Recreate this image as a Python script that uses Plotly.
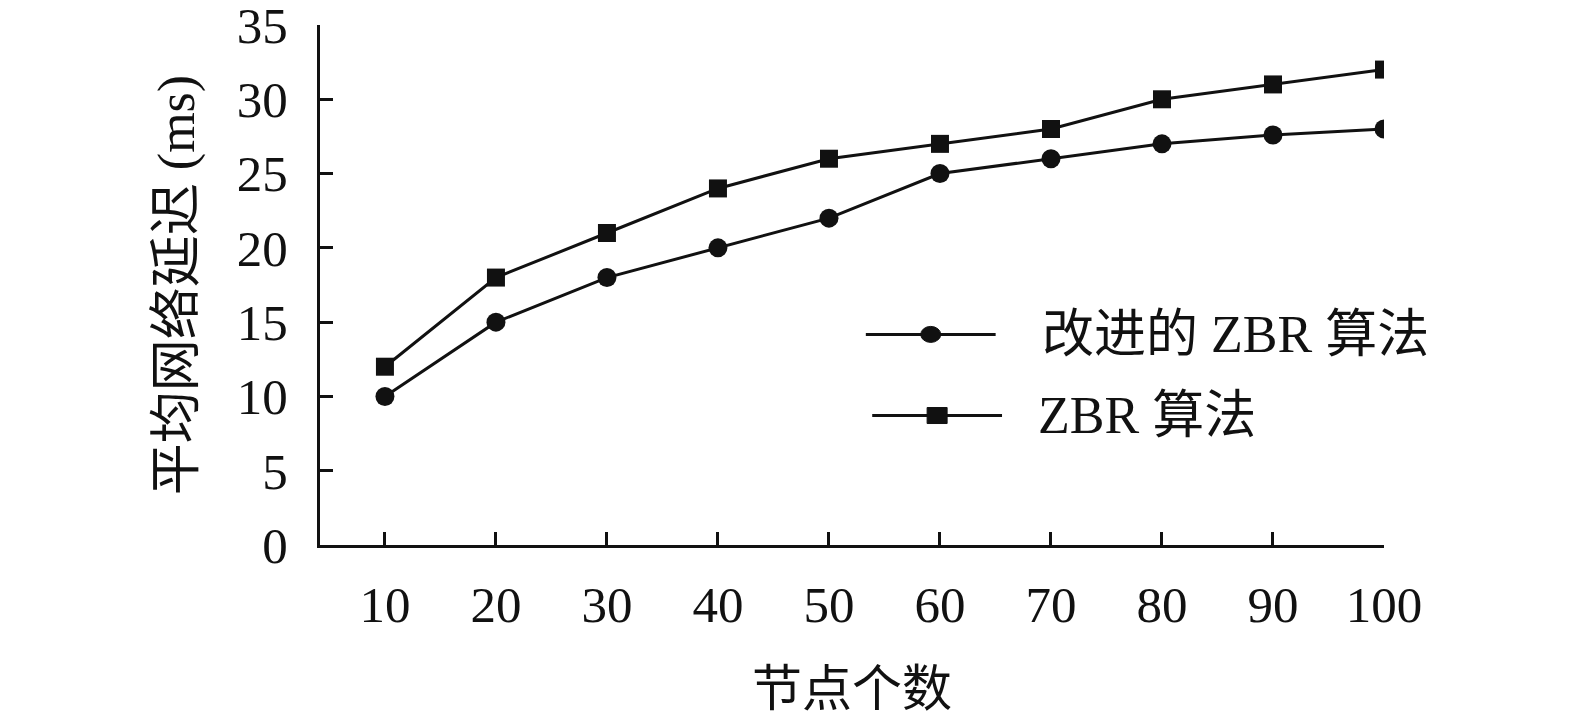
# Average network delay vs number of nodes: improved ZBR vs ZBR
import plotly.graph_objects as go

# ── data ─────────────────────────────────────────────────────
node_counts = [10, 20, 30, 40, 50, 60, 70, 80, 90, 100]
improved_zbr = [10.0, 15.0, 18.0, 20.0, 22.0, 25.0, 26.0, 27.0, 27.6, 28.0]
zbr = [12.0, 18.0, 21.0, 24.0, 26.0, 27.0, 28.0, 30.0, 31.0, 32.0]
y_ticks = [0, 5, 10, 15, 20, 25, 30, 35]
series_names = ["改进的 ZBR 算法", "ZBR 算法"]

FONT = "Liberation Serif, Noto Sans CJK SC, serif"
INK = "#111111"

fig = go.Figure()

fig.add_trace(go.Scatter(
    x=node_counts, y=improved_zbr, name=series_names[0],
    mode="lines+markers",
    line=dict(color=INK, width=3),
    marker=dict(symbol="circle", size=19, color=INK),
    showlegend=False,
))
fig.add_trace(go.Scatter(
    x=node_counts, y=zbr, name=series_names[1],
    mode="lines+markers",
    line=dict(color=INK, width=3),
    marker=dict(symbol="square", size=18, color=INK),
    showlegend=False,
))

# ── hand-drawn legend (long key lines like the original) ─────
legend_rows = [
    dict(y=0.405, x0=0.513, x1=0.635, xm=0.574, sym="circle", tx=0.677),
    dict(y=0.249, x0=0.519, x1=0.641, xm=0.580, sym="rect", tx=0.673),
]
for row, name in zip(legend_rows, series_names):
    fig.add_shape(type="line", xref="paper", yref="paper",
                  x0=row["x0"], x1=row["x1"], y0=row["y"], y1=row["y"],
                  line=dict(color=INK, width=3))
    fig.add_shape(type=row["sym"], xref="paper", yref="paper",
                  xsizemode="pixel", ysizemode="pixel",
                  xanchor=row["xm"], yanchor=row["y"],
                  x0=-10, x1=10, y0=-8, y1=8,
                  fillcolor=INK, line=dict(color=INK, width=1))
    fig.add_annotation(text=name, xref="paper", yref="paper",
                       x=row["tx"], y=row["y"], xanchor="left", yanchor="middle",
                       showarrow=False, font=dict(family=FONT, size=52, color=INK))

# page body has an 8px margin, so the figure is a bit smaller than the window
fig.update_layout(
    width=1567, height=709,
    margin=dict(l=312, r=191, t=17, b=172),
    plot_bgcolor="white", paper_bgcolor="white",
    font=dict(family=FONT, color=INK),
    xaxis=dict(
        range=[4.15, 100], tickvals=node_counts,
        showline=True, linecolor=INK, linewidth=3,
        ticks="inside", ticklen=13, tickwidth=3, tickcolor=INK,
        showgrid=False, zeroline=False, automargin=False,
        ticklabeloverflow="allow",
        tickfont=dict(family=FONT, size=51, color=INK),
        ticklabelstandoff=13,
        title=dict(text="节点个数", font=dict(family=FONT, size=50, color=INK), standoff=40),
    ),
    yaxis=dict(
        range=[0, 35], tickvals=y_ticks,
        showline=True, linecolor=INK, linewidth=3,
        ticks="inside", ticklen=13, tickwidth=3, tickcolor=INK,
        showgrid=False, zeroline=False, automargin=False,
        ticklabeloverflow="allow",
        tickfont=dict(family=FONT, size=51, color=INK),
        ticklabelstandoff=19,
        title=dict(text="平均网络延迟 (ms)", font=dict(family=FONT, size=52, color=INK), standoff=26),
    ),
)

fig.write_html("out.html")
